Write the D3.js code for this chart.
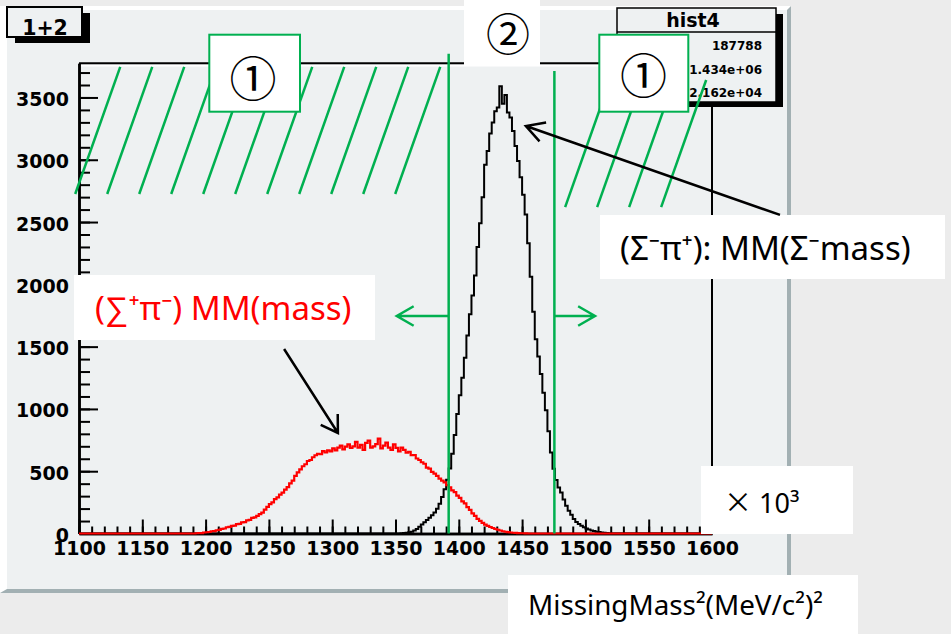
<!DOCTYPE html>
<html>
<head>
<meta charset="utf-8">
<script src="https://cdn.jsdelivr.net/npm/d3@7"></script>
<style>
  body { margin: 0; background: #ececec; }
  svg { display: block; }
</style>
</head>
<body>
<svg id="chart" width="951" height="634"></svg>
<script>
// histogram contents (bin width 2 in units of 10^3 MeV^2)
var binWidth = 2;
var redStart = 1190;
var redCounts = [
  0, 2, 4, 3, 8, 10, 12, 18, 19, 26, 29, 37, 40, 50, 53, 62, 64, 75, 78, 90,
  92, 105, 110, 126, 130, 142, 156, 168, 192, 214, 236, 250, 276, 290, 312, 328, 352, 372, 402, 425,
  462, 490, 515, 540, 556, 582, 590, 612, 628, 640, 636, 662, 650, 668, 660, 684, 668, 690, 705, 676,
  698, 716, 688, 700, 735, 690, 712, 672, 728, 745, 690, 700, 718, 762, 684, 706, 730, 690, 672, 715,
  688, 660, 690, 672, 648, 656, 628, 630, 602, 590, 572, 560, 528, 520, 495, 480, 462, 440, 425, 410,
  388, 370, 346, 332, 304, 286, 258, 242, 212, 190, 162, 142, 118, 102, 86, 72, 62, 52, 44, 36,
  30, 24, 18, 14, 11, 8, 6, 5, 3, 2, 2, 1, 0
];
var blackStart = 1350;
var blackCounts = [
  0, 1, 2, 4, 7, 10, 15, 24, 36, 54, 72, 90, 108, 126, 146, 168, 198, 238, 292, 356,
  432, 522, 640, 790, 960, 1110, 1250, 1410, 1590, 1760, 1910, 2070, 2300, 2490, 2700, 2960, 3070, 3210, 3300, 3390,
  3420, 3590, 3450, 3520, 3380, 3340, 3230, 3110, 2990, 2860, 2720, 2560, 2330, 2060, 1780, 1560, 1420, 1280, 1130, 990,
  820, 650, 520, 430, 370, 330, 272, 222, 182, 150, 116, 92, 76, 62, 50, 40, 32, 25, 20, 15,
  12, 9, 6, 4, 2, 1, 0
];

var xTicks = [1100, 1150, 1200, 1250, 1300, 1350, 1400, 1450, 1500, 1550, 1600];
var yTicks = [0, 500, 1000, 1500, 2000, 2500, 3000, 3500];

// stats values (labels sit under the ① box in the original)
var statValues = ['187788', '1.434e+06', '2.162e+04'];

// cut lines (x) and their top ends (counts)
var cutX = [1392, 1475.5];
var cutTop = [3850, 3712];
// hatched side bands: first/last line foot (x), foot/top level (counts)
var hatchFrom = [1097, 1484];
var hatchTo = [1350, 1560];
var hatchLow = [2725, 2620];
var hatchHigh = [3745, 3640];
// arrows: [tailX, tailY, tipX, tipY]
var redArrow = [1262, 1481, 1304.5, 807];
var blackArrow = [1653.7, 2557, 1453, 3271];
var greenArrows = [[1392, 1746, 1351, 1746], [1475.5, 1746, 1507.6, 1746]];

var green = '#00b050';
var canvasFill = '#eef1f2';
var svg = d3.select('#chart');

var x = d3.scaleLinear().domain([1100, 1600]).range([79, 712]);
var y = d3.scaleLinear().domain([0, 3775]).range([533.5, 63.2]);

// ROOT canvas with bevel
svg.append('rect').attr('x', 0).attr('y', 6).attr('width', 791).attr('height', 587).attr('fill', '#a2b0b3');
svg.append('polygon').attr('points', '0,6 791,6 787,10 7,10 7,589 0,593').attr('fill', '#ffffff');
svg.append('rect').attr('x', 7).attr('y', 10).attr('width', 780).attr('height', 579).attr('fill', canvasFill);

// frame
svg.append('line').attr('x1', x(1100)).attr('x2', x(1600)).attr('y1', y(3775)).attr('y2', y(3775))
  .attr('stroke', '#000').attr('stroke-width', 2);
svg.append('line').attr('x1', x(1100)).attr('x2', x(1600)).attr('y1', y(3775) + 2.5).attr('y2', y(3775) + 2.5)
  .attr('stroke', '#fff').attr('stroke-width', 1.5);
svg.append('line').attr('x1', x(1600)).attr('x2', x(1600)).attr('y1', y(3775)).attr('y2', y(0))
  .attr('stroke', '#000').attr('stroke-width', 2);

function styleAxis(g) {
  g.attr('font-family', '"DejaVu Sans", sans-serif').attr('font-size', 19).attr('font-weight', 'bold');
  g.select('.domain').attr('stroke', '#000').attr('stroke-width', 2.5);
  g.selectAll('.tick line').attr('stroke', '#000').attr('stroke-width', 2);
  g.selectAll('.tick text').attr('fill', '#000');
}

// x axis, ticks pointing inwards
var xMinor = svg.append('g').attr('transform', 'translate(0,' + y(0) + ')')
  .call(d3.axisBottom(x).tickValues(d3.range(1100, 1601, 10)).tickSize(-7).tickSizeOuter(0).tickFormat(''));
styleAxis(xMinor);
var xMajor = svg.append('g').attr('transform', 'translate(0,' + y(0) + ')')
  .call(d3.axisBottom(x).tickValues(xTicks).tickSize(-14).tickSizeOuter(0).tickFormat(d3.format('d')));
styleAxis(xMajor);
xMajor.selectAll('.tick text').attr('y', 21.5).attr('dy', null);

// y axis
var yMinor = svg.append('g').attr('transform', 'translate(' + x(1100) + ',0)')
  .call(d3.axisLeft(y).tickValues(d3.range(0, 3701, 100)).tickSize(-11).tickSizeOuter(0).tickFormat(''));
styleAxis(yMinor);
var yMajor = svg.append('g').attr('transform', 'translate(' + x(1100) + ',0)')
  .call(d3.axisLeft(y).tickValues(yTicks).tickSize(-19).tickSizeOuter(0).tickFormat(d3.format('d')));
styleAxis(yMajor);
yMajor.selectAll('.tick text').attr('x', -10).attr('dy', 8);

// histograms as step outlines
function histPoints(start, counts) {
  var pts = [[1100, 0]];
  counts.forEach(function(c, i) { pts.push([start + i * binWidth, c]); });
  pts.push([start + counts.length * binWidth, 0]);
  pts.push([1600, 0]);
  return pts;
}
var step = d3.line()
  .x(function(d) { return x(d[0]); })
  .y(function(d) { return y(d[1]); })
  .curve(d3.curveStepAfter);

svg.append('path').attr('d', step(histPoints(blackStart, blackCounts)))
  .attr('fill', 'none').attr('stroke', '#000').attr('stroke-width', 2);
svg.append('path').attr('d', step(histPoints(redStart, redCounts)))
  .attr('fill', 'none').attr('stroke', '#ff0000').attr('stroke-width', 2.2);

// title box
svg.append('rect').attr('x', 15).attr('y', 13).attr('width', 75).attr('height', 30).attr('fill', '#000');
svg.append('rect').attr('x', 7).attr('y', 7).attr('width', 75).attr('height', 30)
  .attr('fill', canvasFill).attr('stroke', '#000').attr('stroke-width', 2);
svg.append('text').attr('x', 45).attr('y', 35).attr('text-anchor', 'middle')
  .attr('font-family', '"DejaVu Sans", sans-serif').attr('font-weight', 'bold').attr('font-size', 20.5)
  .text('1+2');

// stats box
svg.append('rect').attr('x', 624).attr('y', 14).attr('width', 159).attr('height', 93).attr('fill', '#000');
svg.append('rect').attr('x', 617).attr('y', 8).attr('width', 159).attr('height', 94)
  .attr('fill', canvasFill).attr('stroke', '#000').attr('stroke-width', 1.5);
svg.append('line').attr('x1', 617).attr('x2', 776).attr('y1', 32).attr('y2', 32)
  .attr('stroke', '#000').attr('stroke-width', 1.5);
svg.append('text').attr('x', 693).attr('y', 27).attr('text-anchor', 'middle')
  .attr('font-family', '"DejaVu Sans", sans-serif').attr('font-weight', 'bold').attr('font-size', 19)
  .text('hist4');
svg.append('g').attr('font-family', '"DejaVu Sans", sans-serif')
  .attr('font-weight', 'bold').attr('font-size', 12)
  .selectAll('text').data(statValues).enter().append('text')
  .attr('x', 762).attr('text-anchor', 'end')
  .attr('y', function(d, i) { return 50 + i * 23.6; }).text(function(d) { return d; });

// cut lines and hatching
var cuts = svg.append('g').attr('stroke', green).attr('stroke-width', 2.5).attr('fill', 'none');
cutX.forEach(function(c, i) {
  cuts.append('line').attr('x1', x(c)).attr('x2', x(c)).attr('y1', y(cutTop[i])).attr('y2', y(0));
});
hatchFrom.forEach(function(h, i) {
  var yb = y(hatchLow[i]), yt = y(hatchHigh[i]);
  var dx = (yb - yt) * 45 / 127;
  d3.range(x(h), x(hatchTo[i]) + 1, 32).forEach(function(xb) {
    cuts.append('line').attr('x1', xb).attr('y1', yb).attr('x2', xb + dx).attr('y2', yt);
  });
});

function arrow(g, a, color, len, ang, width) {
  var x1 = x(a[0]), y1 = y(a[1]), x2 = x(a[2]), y2 = y(a[3]);
  var th = Math.atan2(y1 - y2, x1 - x2);
  g.append('path')
    .attr('d', 'M' + x1 + ',' + y1 + 'L' + x2 + ',' + y2 +
      'M' + (x2 + len * Math.cos(th + ang)) + ',' + (y2 + len * Math.sin(th + ang)) +
      'L' + x2 + ',' + y2 +
      'L' + (x2 + len * Math.cos(th - ang)) + ',' + (y2 + len * Math.sin(th - ang)))
    .attr('fill', 'none').attr('stroke', color).attr('stroke-width', width);
}
greenArrows.forEach(function(a) { arrow(svg, a, green, 19.5, Math.PI / 6, 2.5); });

// white annotation boxes
function box(bx, by, bw, bh, border) {
  svg.append('rect').attr('x', bx).attr('y', by).attr('width', bw).attr('height', bh)
    .attr('fill', '#fff').attr('stroke', border ? green : 'none').attr('stroke-width', 2);
}
function circled(cx, cy, t, size) {
  svg.append('text').attr('x', cx).attr('y', cy).attr('text-anchor', 'middle')
    .attr('dominant-baseline', 'central')
    .attr('font-family', '"Noto Sans CJK JP", sans-serif').attr('font-size', size).text(t);
}
box(209.3, 34.7, 90.7, 77, true);
circled(253, 75, '①', 47);
box(599.3, 34.7, 89, 77, true);
circled(643.5, 72, '①', 47);
box(464, 0, 76, 66, false);
circled(508, 32, '②', 44);

box(74, 275, 301, 65, false);
svg.append('text').attr('x', 95).attr('y', 320).attr('fill', '#ff0000')
  .attr('font-family', '"Noto Sans", sans-serif').attr('font-size', 33)
  .text('(∑⁺π⁻) MM(mass)');

box(600, 215, 345, 64, false);
svg.append('text').attr('x', 620).attr('y', 260).attr('fill', '#000')
  .attr('font-family', '"Noto Sans", sans-serif').attr('font-size', 33)
  .text('(Σ⁻π⁺): MM(Σ⁻mass)');

box(701, 466, 152, 68, false);
var pw = svg.append('text').attr('x', 724).attr('y', 513).attr('fill', '#000')
  .attr('font-family', '"Noto Sans", sans-serif').attr('font-size', 27);
pw.append('tspan').attr('font-family', '"Noto Sans CJK JP", sans-serif').attr('font-size', 28).text('×');
pw.append('tspan').text(' 10³');

box(508, 575, 350, 59, false);
svg.append('text').attr('x', 528).attr('y', 615).attr('fill', '#000')
  .attr('font-family', '"Noto Sans", sans-serif').attr('font-size', 27.8)
  .text('MissingMass²(MeV/c²)²');

// black arrows
arrow(svg, redArrow, '#000', 19, Math.PI / 5.6, 2.5);
arrow(svg, blackArrow, '#000', 20.5, Math.PI / 6.2, 2.5);
</script>
</body>
</html>
